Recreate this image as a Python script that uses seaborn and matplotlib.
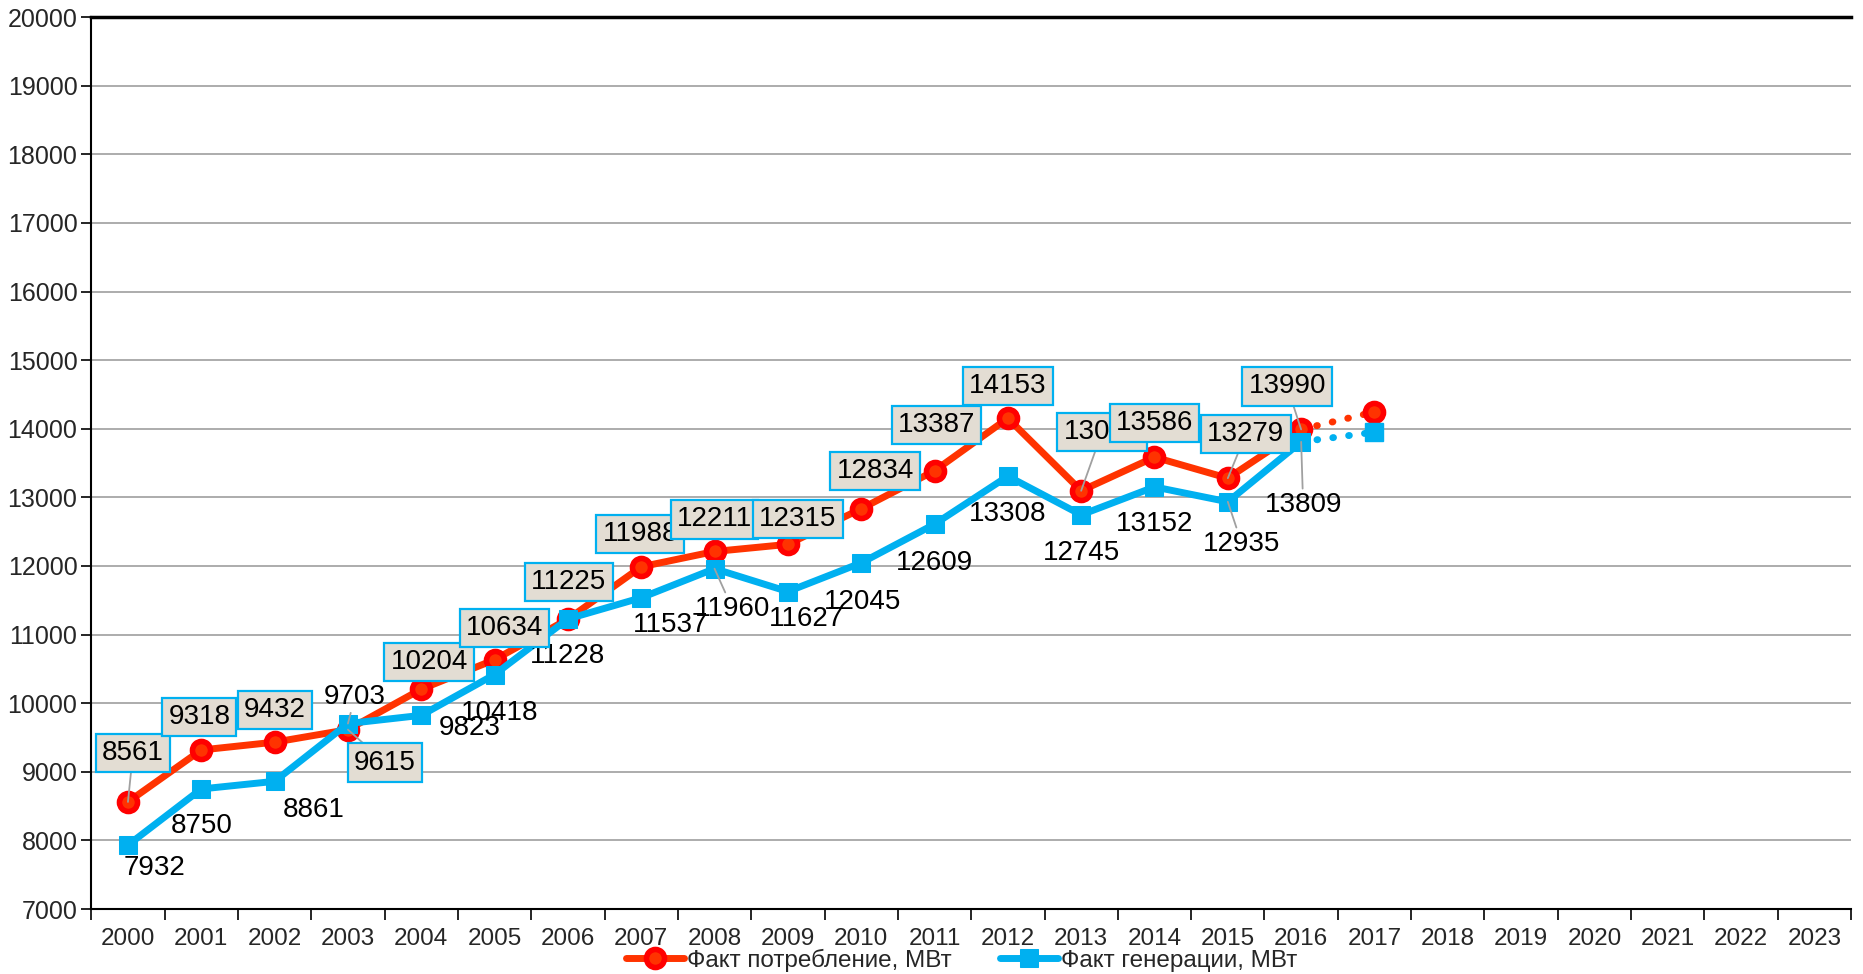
import numpy as np
import pandas as pd
import matplotlib
matplotlib.use("Agg")
import matplotlib.pyplot as plt
import seaborn as sns

years = list(range(2000, 2017))
consumption = [8561, 9318, 9432, 9615, 10204, 10634, 11225, 11988, 12211, 12315,
               12834, 13387, 14153, 13096, 13586, 13279, 13990]
generation = [7932, 8750, 8861, 9703, 9823, 10418, 11228, 11537, 11960, 11627,
              12045, 12609, 13308, 12745, 13152, 12935, 13809]
forecast_years = [2016, 2017]
forecast_consumption = [13990, 14245]
forecast_generation = [13809, 13950]
axis_years = list(range(2000, 2024))

cons_label = "Факт потребление, МВт"
gen_label = "Факт генерации, МВт"

# label offsets in pixels (dx, dy; dy up positive), and which have leader lines
cons_offsets = [(5, 49), (-2, 33), (0, 32), (37, -33), (8, 27), (10, 32), (1, 37),
                (-1, 33), (0, 32), (10, 25), (14, 38), (2, 46), (0, 32), (21, 59),
                (0, 34), (18, 44), (-14, 43)]
cons_leader = [0, 3, 13, 15, 16]
gen_offsets = [(27, -23), (0, -37), (39, -29), (7, 27), (48, -13), (5, -38), (0, -37),
               (29, -27), (18, -40), (19, -27), (1, -39), (0, -39), (0, -38), (0, -38),
               (0, -37), (14, -42), (2, -63)]
gen_leader = [3, 8, 15, 16]

RED_LINE = "#FF3300"
RED_MARK = "#FF0000"
BLUE = "#00B0F0"

sns.set_theme(style="white")
plt.rcParams["font.family"] = ["Liberation Sans", "DejaVu Sans"]

fig = plt.figure(figsize=(18.63, 9.74), dpi=100)
ax = fig.add_axes([0.049, 0.0667, 0.9446, 0.9158])

df = pd.DataFrame({"year": years, "cons": consumption, "gen": generation})
fc = pd.DataFrame({"year": forecast_years, "cons": forecast_consumption,
                   "gen": forecast_generation})

# forecast dotted segments
ax.plot(fc["year"], fc["cons"], color=RED_LINE, lw=5, ls=(0, (0.1, 2.2)),
        dash_capstyle="round", zorder=3)
ax.plot(fc["year"], fc["gen"], color=BLUE, lw=5, ls=(0, (0.1, 2.2)),
        dash_capstyle="round", zorder=3)
ax.plot(fc["year"][1:], fc["cons"][1:], "o", color=RED_LINE, mec=RED_MARK,
        mew=4, ms=13, zorder=4)
ax.plot(fc["year"][1:], fc["gen"][1:], "s", color=BLUE, mec=BLUE, ms=13, zorder=4)

sns.lineplot(data=df, x="year", y="cons", ax=ax, color=RED_LINE, lw=5,
             marker="o", markersize=13, markerfacecolor=RED_LINE,
             markeredgecolor=RED_MARK, markeredgewidth=4, label=cons_label, zorder=5)
sns.lineplot(data=df, x="year", y="gen", ax=ax, color=BLUE, lw=5,
             marker="s", markersize=13, markerfacecolor=BLUE,
             markeredgecolor=BLUE, label=gen_label, zorder=6)

ax.set_xlim(1999.5, 2023.5)
ax.set_ylim(7000, 20000)
ax.set_yticks(range(7000, 20001, 1000))
ax.set_xticks(axis_years)
ax.set_xticklabels([str(y) for y in axis_years])
ax.set_xticks(np.arange(1999.5, 2024, 1), minor=True)
ax.tick_params(axis="x", which="major", length=0, pad=14, labelsize=17.5)
ax.tick_params(axis="x", which="minor", length=8, width=1.2, color="black",
               direction="out", bottom=True)
ax.tick_params(axis="y", length=7, width=1.2, color="black", direction="out",
               left=True, labelsize=18, pad=3)
ax.set_xlabel("")
ax.set_ylabel("")
ax.yaxis.grid(True, color="#A6A6A6", lw=1.3)
ax.set_axisbelow(True)
for side in ["left", "bottom", "top"]:
    ax.spines[side].set_color("black")
    ax.spines[side].set_linewidth(1.5)
ax.spines["top"].set_linewidth(2.5)
ax.spines["right"].set_visible(False)

box = dict(boxstyle="square,pad=0.22", facecolor="#E3DDD3", edgecolor=BLUE, lw=1.6)
leader = dict(arrowstyle="-", color="#A0A0A0", lw=1.3, shrinkA=0, shrinkB=0)

for i, (yr, v) in enumerate(zip(years, consumption)):
    dx, dy = cons_offsets[i]
    ax.annotate(str(v), (yr, v), xytext=(dx, dy), textcoords="offset pixels",
                ha="center", va="center", fontsize=20, color="black", bbox=box,
                arrowprops=leader if i in cons_leader else None, zorder=8)

for i, (yr, v) in enumerate(zip(years, generation)):
    dx, dy = gen_offsets[i]
    ax.annotate(str(v), (yr, v), xytext=(dx, dy), textcoords="offset pixels",
                ha="center", va="center", fontsize=20, color="black",
                arrowprops=leader if i in gen_leader else None, zorder=7)

handles, labels = ax.get_legend_handles_labels()
ax.get_legend().remove()
fig.legend(handles, labels, loc="center", bbox_to_anchor=(0.516, 0.0144), ncol=2,
           frameon=False, fontsize=17.5, handlelength=2.4, handletextpad=0.1,
           columnspacing=2.0, borderaxespad=0)

fig.savefig("out.png", dpi=100)
plt.close(fig)
